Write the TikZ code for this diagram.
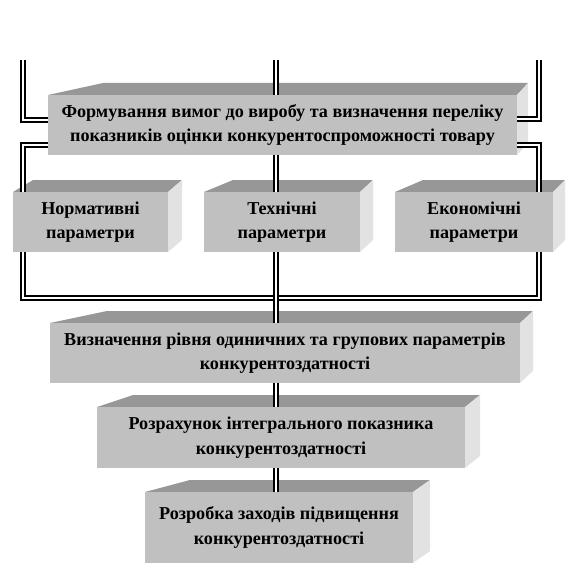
\documentclass[tikz,border=0pt]{standalone}
\usepackage{fontspec}
\setmainfont{Liberation Serif}
\usetikzlibrary{calc}
\definecolor{frontgrey}{HTML}{C0C0C0}
\definecolor{topgrey}{HTML}{979797}
\definecolor{sidegrey}{HTML}{E2E2E2}
\pgfdeclarelayer{faces}
\pgfdeclarelayer{wires}
\pgfsetlayers{faces,wires,main}
\tikzset{
  frontbox/.style={rectangle, fill=frontgrey, inner sep=0pt, outer sep=0pt,
                   align=center, text=black, font=\bfseries\fontsize{13.6}{18.5}\selectfont},
  tline/.style={draw=black, double=white, line width=2pt, double distance=1.1pt},
  topface/.style={fill=topgrey},
  sideface/.style={fill=sidegrey}}
% #1 node, #2 slant of the left top edge, #3 depth to the right, #4 rise
\newcommand{\boxfaces}[4]{%
  \fill[topface] (#1.north west) -- ++(#2,-#4) -- ($(#1.north east)+(#3,-#4)$)
    -- (#1.north east) -- cycle;
  \fill[sideface] (#1.north east) -- ++(#3,-#4) -- ($(#1.south east)+(#3,-#4)$)
    -- (#1.south east) -- cycle;}
\begin{document}
\begin{tikzpicture}[x=0.75pt, y=-0.75pt]
  \useasboundingbox (0,0) rectangle (567,567);
  % blocks
  \node[frontbox, minimum width=351.75pt, minimum height=45pt] (form) at (282.5,125)
    {Формування вимог до виробу та визначення переліку\\
     показників оцінки конкурентоспроможності товару};
  \node[frontbox, minimum width=116.25pt, minimum height=45pt] (norm) at (90.5,222)
    {Нормативні\\параметри};
  \node[frontbox, minimum width=117pt, minimum height=45pt] (tech) at (282,222)
    {Технічні\\параметри};
  \node[frontbox, minimum width=118.5pt, minimum height=45pt] (econ) at (474,222)
    {Економічні\\параметри};
  \node[frontbox, minimum width=352.5pt, minimum height=45pt] (level) at (285,353)
    {Визначення рівня одиничних та групових параметрів\\
     конкурентоздатності};
  \node[frontbox, minimum width=276pt, minimum height=45.75pt] (integ) at (281,437.5)
    {Розрахунок інтегрального показника\\конкурентоздатності};
  \node[frontbox, minimum width=201pt, minimum height=53.25pt] (measures) at (279,527.5)
    {Розробка заходів підвищення\\конкурентоздатності};

  \begin{pgfonlayer}{faces}
    \boxfaces{form}{55}{11}{12}
    \boxfaces{norm}{20}{14}{12}
    \boxfaces{tech}{29}{13}{12}
    \boxfaces{econ}{28}{12}{12}
    \boxfaces{level}{57}{13}{12}
    \boxfaces{integ}{36}{15}{12}
    \boxfaces{measures}{45}{17}{12}
  \end{pgfonlayer}

  % connectors
  \coordinate (lt) at (23,60);
  \coordinate (mt) at (276,60);
  \coordinate (rt) at (539,60);
  \coordinate (lb) at (23,298);
  \coordinate (rb) at (539,298);
  \begin{pgfonlayer}{wires}
    \draw[tline] (lt) |- ($(form.west)+(0,-5)$);
    \draw[tline] (rt) |- ($(form.east)+(0,-6)$);
    \draw[tline] ($(form.south west)+(0,-10)$) -| (lb) -- (rb)
      |- ($(form.south east)+(0,-10)$);
    \draw[tline] (mt) -- (mt |- measures.north);
  \end{pgfonlayer}
\end{tikzpicture}
\end{document}
